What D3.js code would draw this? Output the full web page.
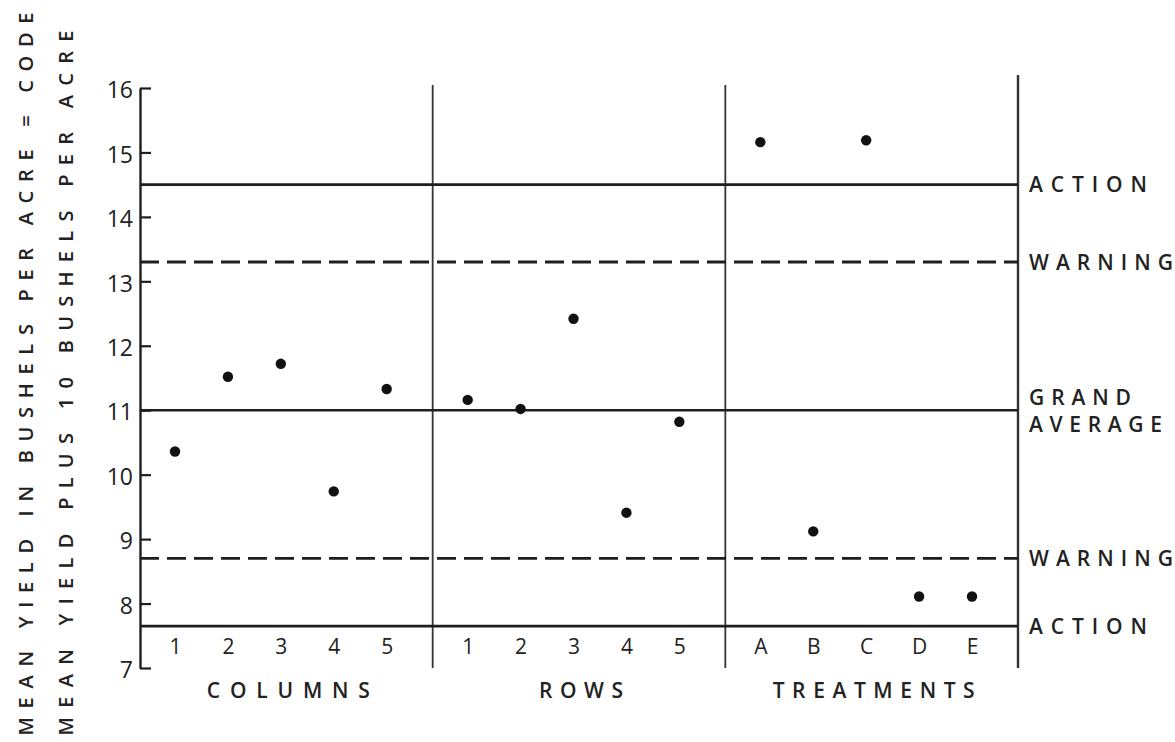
<!DOCTYPE html>
<html>
<head>
<meta charset="utf-8">
<script src="https://cdn.jsdelivr.net/npm/d3@7"></script>
<style>
  html, body { margin: 0; padding: 0; background: #fff; }
  svg { display: block; }
  text { font-family: "Open Sans", "DejaVu Sans", sans-serif; fill: #222; font-weight: 600; }
</style>
</head>
<body>
<svg id="chart" width="1175" height="742"></svg>
<script>
// ---- data ----
const groups = ["COLUMNS", "ROWS", "TREATMENTS"];
const columnLabels = ["1", "2", "3", "4", "5"];
const columnValues = [10.36, 11.52, 11.72, 9.74, 11.33];
const rowLabels = ["1", "2", "3", "4", "5"];
const rowValues = [11.16, 11.02, 12.42, 9.41, 10.82];
const treatmentLabels = ["A", "B", "C", "D", "E"];
const treatmentValues = [15.16, 9.12, 15.19, 8.11, 8.11];
const yTicks = [7, 8, 9, 10, 11, 12, 13, 14, 15, 16];
const refLines = [
  { name: "ACTION", value: 14.5, type: "solid" },
  { name: "WARNING", value: 13.3, type: "dash" },
  { name: "GRAND|AVERAGE", value: 11.0, type: "solid" },
  { name: "WARNING", value: 8.7, type: "dash" },
  { name: "ACTION", value: 7.65, type: "solid" }
];
const yTitle1 = "MEAN YIELD IN BUSHELS PER ACRE = CODE";
const yTitle2 = "MEAN YIELD PLUS 10 BUSHELS PER ACRE";

(function () {
const panels = [
  { group: groups[0], labels: columnLabels, values: columnValues },
  { group: groups[1], labels: rowLabels, values: rowValues },
  { group: groups[2], labels: treatmentLabels, values: treatmentValues }
];

// ---- layout ----
const mLeft = 140, mRight = 1018, mTop = 88, mBottom = 668;
const svg = d3.select("#chart");
const ink = "#1e1e1e";

const y = d3.scaleLinear().domain([7, 16]).range([mBottom, mTop]);
const xGroup = d3.scaleBand().domain(groups).range([mLeft, mRight]);

// y axis
const yAxis = d3.axisLeft(y).tickValues(yTicks).tickSizeInner(-11).tickSizeOuter(0).tickPadding(7)
  .tickFormat(d3.format("d"));
const gy = svg.append("g").attr("transform", `translate(${mLeft},0)`).call(yAxis);
gy.select(".domain").attr("stroke", ink).attr("stroke-width", 2.4);
gy.selectAll(".tick line").attr("stroke", ink).attr("stroke-width", 2.2);
gy.selectAll(".tick text").style("font-size", "23px").style("font-weight", 500).attr("fill", ink).attr("dy", "0.42em");

// vertical separators
groups.slice(1).forEach(g => {
  svg.append("line")
    .attr("x1", xGroup(g)).attr("x2", xGroup(g))
    .attr("y1", mTop - 3).attr("y2", mBottom)
    .attr("stroke", "#333").attr("stroke-width", 1.8);
});
svg.append("line")
  .attr("x1", mRight).attr("x2", mRight)
  .attr("y1", mTop - 13).attr("y2", mBottom)
  .attr("stroke", "#333").attr("stroke-width", 2.4);

// reference lines
const labelLen = { "ACTION": 118, "WARNING": 144, "GRAND": 102, "AVERAGE": 133 };
refLines.forEach(r => {
  svg.append("line")
    .attr("x1", mLeft).attr("x2", mRight)
    .attr("y1", y(r.value)).attr("y2", y(r.value))
    .attr("stroke", ink)
    .attr("stroke-width", r.type === "dash" ? 2.8 : 2.6)
    .attr("stroke-dasharray", r.type === "dash" ? "19,8" : null);
  const parts = r.name.split("|");
  parts.forEach((p, i) => {
    const off = parts.length === 1 ? 0 : (i === 0 ? -13 : 14);
    svg.append("text")
      .attr("x", mRight + 11)
      .attr("y", y(r.value) + off)
      .attr("dy", "0.36em")
      .attr("textLength", labelLen[p])
      .attr("lengthAdjust", "spacing")
      .style("font-size", "21px")
      .text(p);
  });
});

// points and category labels
const groupLen = { "COLUMNS": 163, "ROWS": 84, "TREATMENTS": 202 };
panels.forEach(p => {
  const x0 = xGroup(p.group), x1 = x0 + xGroup.bandwidth();
  const xs = d3.scalePoint().domain(p.labels).range([x0 + 35, x1 - 46]);
  svg.append("g").selectAll("circle")
    .data(p.values)
    .join("circle")
    .attr("cx", (d, i) => xs(p.labels[i]))
    .attr("cy", d => y(d))
    .attr("r", 5.2)
    .attr("fill", "#111");
  const ax = d3.axisBottom(xs).tickSize(0).tickPadding(0);
  const gx = svg.append("g").attr("transform", `translate(0,${mBottom - 30})`).call(ax);
  gx.select(".domain").remove();
  gx.selectAll(".tick text").style("font-size", "21px").style("font-weight", 500).attr("fill", ink).attr("dy", "0.75em");
  svg.append("text")
    .attr("x", (x0 + x1) / 2 + 2)
    .attr("y", 690)
    .attr("dy", "0.36em")
    .attr("text-anchor", "middle")
    .attr("textLength", groupLen[p.group])
    .attr("lengthAdjust", "spacing")
    .style("font-size", "21px")
    .text(p.group);
});

// y titles (rotated)
[[yTitle1, 26, 374, 723], [yTitle2, 66, 383, 705]].forEach(([txt, xp, yc, len]) => {
  svg.append("text")
    .attr("transform", `translate(${xp},${yc}) rotate(-90)`)
    .attr("text-anchor", "middle")
    .attr("dy", "0.36em")
    .attr("textLength", len)
    .attr("lengthAdjust", "spacing")
    .style("font-size", "20px")
    .text(txt);
});
})();
</script>
</body>
</html>
